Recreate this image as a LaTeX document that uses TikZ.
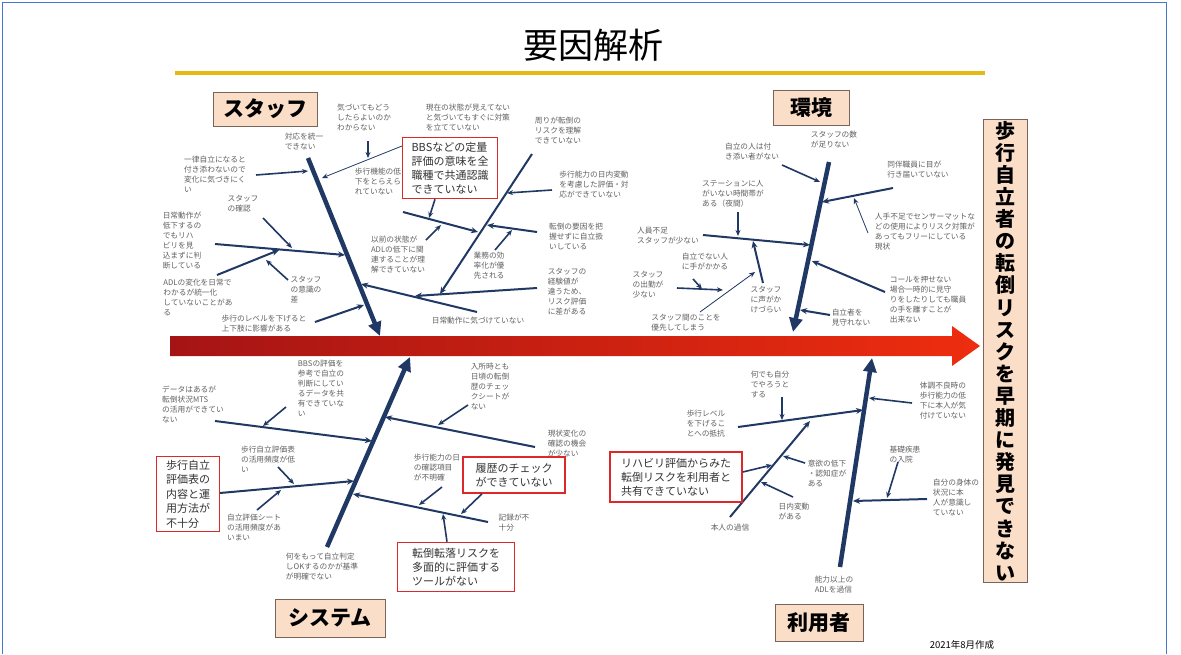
\documentclass[tikz,border=0pt]{standalone}
\usepackage{fontspec}
\setmainfont{Noto Sans CJK JP}
\usetikzlibrary{arrows.meta}
\definecolor{navy}{RGB}{31,56,100}
\definecolor{peach}{RGB}{251,222,200}
\definecolor{catb}{RGB}{120,100,90}
\definecolor{redc}{RGB}{220,40,40}
\definecolor{gold}{RGB}{230,185,20}
\definecolor{framec}{RGB}{70,120,200}
\definecolor{spinel}{RGB}{165,20,20}
\definecolor{spiner}{RGB}{238,45,15}
\begin{document}
\begin{tikzpicture}[x=1pt,y=-1pt,
  sm/.style={font=\fontsize{7.7}{10}\selectfont, text=black!62, align=left, inner sep=0pt},
  rb/.style={draw=redc, line width=1.6pt, fill=white, font=\fontsize{11}{14}\selectfont, text=black!80, align=left, inner sep=3pt},
  cat/.style={draw=catb, line width=0.9pt, fill=peach, font=\bfseries\fontsize{21}{24}\selectfont, inner sep=0pt},
  bone/.style={line width=4.5pt, draw=navy, -{Triangle[length=14pt,width=13pt]}},
  sub/.style={line width=2pt, draw=navy, -{Stealth[length=7pt,width=6pt]}},
  arr/.style={line width=1.6pt, draw=navy, -{Stealth[length=6pt,width=5pt]}},
  thin/.style={line width=0.8pt, draw=navy, -{Stealth[length=6pt,width=5pt]}}]
\useasboundingbox (0,0) rectangle (1181,654);
\fill[white] (0,0) rectangle (1181,654);
\draw[framec, line width=1pt] (2,654) -- (2,2) -- (1166,2) -- (1166,654);

% title
\node[font=\fontsize{35}{38}\selectfont] (title) at (593,45) {要因解析};
\coordinate (gl) at (175,73); \coordinate (gr) at (985,73);
\draw[gold, line width=4pt] (gl) -- (gr);

% spine
\shade[left color=spinel, right color=spiner] (170,336) -- (952,336) -- (952,326) -- (980,346) -- (952,366) -- (952,356) -- (170,356) -- cycle;

% effect box
\node[draw=catb, line width=0.9pt, fill=peach, minimum width=44pt, minimum height=463pt, inner sep=0pt,
      font=\bfseries\fontsize{20}{22.1}\selectfont, align=center] (eff) at (1005,351)
 {歩\\行\\自\\立\\者\\の\\転\\倒\\リ\\ス\\ク\\を\\早\\期\\に\\発\\見\\で\\き\\な\\い};

% categories
\node[cat, minimum width=104pt, minimum height=34pt] (cstaff) at (265,109) {スタッフ};
\node[cat, minimum width=76pt, minimum height=35pt] (cenv) at (811,108) {環境};
\node[cat, minimum width=110pt, minimum height=38pt] (csys) at (330,618) {システム};
\node[cat, minimum width=88pt, minimum height=37pt] (cuser) at (819,623) {利用者};

\node[font=\fontsize{9.5}{11}\selectfont] (date) at (962,645) {2021年8月作成};

% ================= STAFF =================
\coordinate (sb1) at (308,158); \coordinate (sb2) at (380,336);
\draw[bone] (sb1) -- (sb2);

\node[sm] (s_t1) at (364,118) {気づいてもどう\\したらよいのか\\わからない};
\node[sm] (s_t2) at (468,117) {現在の状態が見えてない\\と気づいてもすぐに対策\\を立てていない};
\node[sm] (s_t3) at (304,141) {対応を統一\\できない};
\node[sm] (s_t4) at (215,174) {一律自立になると\\付き添わないので\\変化に気づきにく\\い};
\node[sm] (s_t5) at (558,130) {周りが転倒の\\リスクを理解\\できていない};
\node[sm] (s_t6) at (594,185) {歩行能力の日内変動\\を考慮した評価・対\\応ができていない};
\node[sm] (s_t7) at (378,181) {歩行機能の低\\下をとらえら\\れていない};
\node[sm] (s_t8) at (243,204) {スタッフ\\の確認};
\node[sm] (s_t9) at (182,241) {日常動作が\\低下するの\\でもリハ\\ビリを見\\込まずに判\\断している};
\node[sm] (s_t10) at (398,255) {以前の状態が\\ADLの低下に関\\連することが理\\解できていない};
\node[sm] (s_t11) at (489,266) {業務の効\\率化が優\\先される};
\node[sm] (s_t12) at (576,236) {転倒の要因を把\\握せずに自立扱\\いしている};
\node[sm] (s_t13) at (567,292) {スタッフの\\経験値が\\違うため、\\リスク評価\\に差がある};
\node[sm] (s_t14) at (198,297) {ADLの変化を日常で\\わかるが統一化\\していないことがあ\\る};
\node[sm] (s_t15) at (306,290) {スタッフ\\の意識の\\差};
\node[sm] (s_t16) at (264,324) {歩行のレベルを下げると\\上下肢に影響がある};
\node[sm] (s_t17) at (478,321) {日常動作に気づけていない};

% staff connectors
\coordinate (a1s) at (256,175); \coordinate (a1e) at (308,171);
\draw[arr] (a1s) -- (a1e);
\coordinate (a2s) at (402,146); \coordinate (a2e) at (322,178);
\draw[thin] (a2s) -- (a2e);
\coordinate (a3s) at (368,141); \coordinate (a3e) at (368,158);
\draw[arr] (a3s) -- (a3e);
\coordinate (a4s) at (215,244); \coordinate (a4e) at (345,255);
\draw[sub] (a4s) -- (a4e);
\coordinate (a5s) at (263,218); \coordinate (a5e) at (292,248);
\draw[arr] (a5s) -- (a5e);
\coordinate (a6s) at (217,275); \coordinate (a6e) at (279,250);
\draw[sub] (a6s) -- (a6e);
\coordinate (a7s) at (288,280); \coordinate (a7e) at (266,260);
\draw[arr] (a7s) -- (a7e);
\coordinate (a8s) at (315,322); \coordinate (a8e) at (364,305);
\draw[sub] (a8s) -- (a8e);
\coordinate (Aas) at (477,312); \coordinate (Aae) at (361,284);
\draw[sub] (Aas) -- (Aae);
\coordinate (Cs) at (537,288); \coordinate (Ce) at (415,296);
\draw[sub] (Cs) -- (Ce);
\coordinate (Bs) at (532,154); \coordinate (Be) at (440,294);
\draw[sub] (Bs) -- (Be);
\coordinate (Ds) at (552,190); \coordinate (De) at (507,193);
\draw[arr] (Ds) -- (De);
\coordinate (Es) at (537,232); \coordinate (Ee) at (487,225);
\draw[sub] (Es) -- (Ee);
\coordinate (Fs) at (495,250); \coordinate (Fe) at (512,230);
\draw[arr] (Fs) -- (Fe);
\coordinate (Gs) at (403,212); \coordinate (Ge) at (478,232);
\draw[sub] (Gs) -- (Ge);
\coordinate (Ie) at (441,225); \coordinate (Is) at (426,240);
\draw[arr] (Is) -- (Ie);

\node[rb, minimum width=95pt, minimum height=61pt] (s_rb) at (450,168) {BBSなどの定量\\評価の意味を全\\職種で共通認識\\できていない};
\coordinate (He) at (429,218);
\draw[arr] (s_rb.south -| 435,0) -- (He);

% ================= ENVIRONMENT =================
\coordinate (eb1) at (829,162); \coordinate (eb2) at (793,332);
\draw[bone] (eb1) -- (eb2);

\node[sm] (e_t1) at (834,140) {スタッフの数\\が足りない};
\node[sm] (e_t2) at (752,152) {自立の人は付\\き添い者がない};
\node[sm] (e_t3) at (733,194) {ステーションに人\\がいない時間帯が\\ある（夜間）};
\node[sm] (e_t4) at (668,236) {人員不足\\スタッフが少ない};
\node[sm] (e_t5) at (705,262) {自立でない人\\に手がかかる};
\node[sm] (e_t6) at (648,285) {スタッフ\\の出勤が\\少ない};
\node[sm] (e_t7) at (766,300) {スタッフ\\に声がか\\けづらい};
\node[sm] (e_t8) at (686,323) {スタッフ間のことを\\優先してしまう};
\node[sm] (e_t9) at (918,170) {同伴職員に目が\\行き届いていない};
\node[sm] (e_t10) at (925,232) {人手不足でセンサーマットな\\どの使用によりリスク対策が\\あってもフリーにしている\\現状};
\node[sm] (e_t11) at (928,300) {コールを押せない\\場合一時的に見守\\りをしたりしても職員\\の手を離すことが\\出来ない};
\node[sm] (e_t12) at (851,318) {自立者を\\見守れない};

\coordinate (e1s) at (782,165); \coordinate (e1e) at (820,182);
\draw[arr] (e1s) -- (e1e);
\coordinate (e2s) at (703,235); \coordinate (e2e) at (810,245);
\draw[sub] (e2s) -- (e2e);
\coordinate (e3s) at (738,212); \coordinate (e3e) at (738,236);
\draw[arr] (e3s) -- (e3e);
\coordinate (e4s) at (763,283); \coordinate (e4e) at (753,241);
\draw[sub] (e4s) -- (e4e);
\coordinate (e5s) at (677,288); \coordinate (e5e) at (723,290);
\draw[arr] (e5s) -- (e5e);
\coordinate (e6s) at (693,279); \coordinate (e6e) at (702,289);
\draw[arr] (e6s) -- (e6e);
\coordinate (e7s) at (700,312); \coordinate (e7e) at (755,272);
\draw[thin] (e7s) -- (e7e);
\coordinate (e8s) at (893,188); \coordinate (e8e) at (822,202);
\draw[sub] (e8s) -- (e8e);
\coordinate (e9s) at (868,233); \coordinate (e9e) at (854,198);
\draw[thin] (e9s) -- (e9e);
\coordinate (e10s) at (885,292); \coordinate (e10e) at (812,261);
\draw[sub] (e10s) -- (e10e);
\coordinate (e11s) at (830,315); \coordinate (e11e) at (800,310);
\draw[sub] (e11s) -- (e11e);

% ================= SYSTEM =================
\coordinate (yb1) at (327,547); \coordinate (yb2) at (410,357);
\draw[bone] (yb1) -- (yb2);

\node[sm] (y_t1) at (321,388) {BBSの評価を\\参考で自立の\\判断にしてい\\るデータを共\\有できていな\\い};
\node[sm] (y_t2) at (193,404) {データはあるが\\転倒状況MTS\\の活用ができてい\\ない};
\node[sm] (y_t3) at (268,459) {歩行自立評価表\\の活用頻度が低\\い};
\node[sm] (y_t4) at (254,527) {自立評価シート\\の活用頻度があ\\いまい};
\node[sm] (y_t5) at (322,567) {何をもって自立判定\\しOKするのかが基準\\が明確でない};
\node[sm] (y_t6) at (490,386) {入所時とも\\日頃の転倒\\歴のチェッ\\クシートが\\ない};
\node[sm] (y_t7) at (567,444) {現状変化の\\確認の機会\\が少ない};
\node[sm] (y_t8) at (437,468) {歩行能力の日\\の確認項目\\が不明確};
\node[sm] (y_t9) at (514,523) {記録が不\\十分};

\coordinate (s1s) at (215,421); \coordinate (s1e) at (372,441);
\draw[sub] (s1s) -- (s1e);
\coordinate (s2s) at (286,407); \coordinate (s2e) at (263,426);
\draw[arr] (s2s) -- (s2e);
\coordinate (s3s) at (220,493); \coordinate (s3e) at (354,481);
\draw[sub] (s3s) -- (s3e);
\coordinate (s4s) at (278,467); \coordinate (s4e) at (294,484);
\draw[arr] (s4s) -- (s4e);
\coordinate (s5s) at (257,510); \coordinate (s5e) at (281,490);
\draw[arr] (s5s) -- (s5e);
\coordinate (s6s) at (535,447); \coordinate (s6e) at (385,417);
\draw[sub] (s6s) -- (s6e);
\coordinate (s7s) at (468,405); \coordinate (s7e) at (438,425);
\draw[arr] (s7s) -- (s7e);
\coordinate (s8s) at (488,522); \coordinate (s8e) at (353,494);
\draw[sub] (s8s) -- (s8e);
\coordinate (s9s) at (442,487); \coordinate (s9e) at (419,505);
\draw[arr] (s9s) -- (s9e);

\node[rb, minimum width=63pt, minimum height=75pt, font=\fontsize{11}{14.5}\selectfont] (y_rb1) at (188,494) {歩行自立\\評価表の\\内容と運\\用方法が\\不十分};
\node[rb, minimum width=102pt, minimum height=36pt] (y_rb2) at (514,475) {履歴のチェック\\ができていない};
\node[rb, minimum width=117pt, minimum height=49pt] (y_rb3) at (456,567) {転倒転落リスクを\\多面的に評価する\\ツールがない};
\coordinate (s10e) at (461,514);
\draw[arr] (y_rb2.south -| 482,0) -- (s10e);
\coordinate (s11e) at (443,514);
\draw[arr] (y_rb3.north -| 447,0) -- (s11e);

% ================= USER =================
\coordinate (ub1) at (840,567); \coordinate (ub2) at (872,358);
\draw[bone] (ub1) -- (ub2);

\node[sm] (u_t1) at (770,384) {何でも自分\\でやろうと\\する};
\node[sm] (u_t2) at (706,424) {歩行レベル\\を下げるこ\\とへの抵抗};
\node[sm] (u_t3) at (730,528) {本人の過信};
\node[sm] (u_t4) at (827,473) {意欲の低下\\・認知症が\\ある};
\node[sm] (u_t5) at (794,511) {日内変動\\がある};
\node[sm] (u_t6) at (943,401) {体調不良時の\\歩行能力の低\\下に本人が気\\付けていない};
\node[sm] (u_t7) at (905,455) {基礎疾患\\の入院};
\node[sm] (u_t8) at (956,497) {自分の身体の\\状況に本\\人が意識し\\ていない};
\node[sm] (u_t9) at (834,585) {能力以上の\\ADLを過信};

\coordinate (u1s) at (738,427); \coordinate (u1e) at (863,410);
\draw[sub] (u1s) -- (u1e);
\coordinate (u2s) at (782,397); \coordinate (u2e) at (782,420);
\draw[arr] (u2s) -- (u2e);
\coordinate (u3s) at (730,517); \coordinate (u3e) at (810,421);
\draw[sub] (u3s) -- (u3e);
\coordinate (u5s) at (793,497); \coordinate (u5e) at (761,482);
\draw[arr] (u5s) -- (u5e);
\coordinate (u6s) at (805,463); \coordinate (u6e) at (783,456);
\draw[arr] (u6s) -- (u6e);
\coordinate (u7s) at (912,403); \coordinate (u7e) at (869,398);
\draw[arr] (u7s) -- (u7e);
\coordinate (u8s) at (927,499); \coordinate (u8e) at (853,501);
\draw[sub] (u8s) -- (u8e);
\coordinate (u9s) at (898,462); \coordinate (u9e) at (887,498);
\draw[arr] (u9s) -- (u9e);

\node[rb, minimum width=132pt, minimum height=50pt] (u_rb) at (676,477) {リハビリ評価からみた\\転倒リスクを利用者と\\共有できていない};
\coordinate (u4e) at (772,465);
\draw[arr] (u_rb.east |- 0,472) -- (u4e);

\end{tikzpicture}
\end{document}
